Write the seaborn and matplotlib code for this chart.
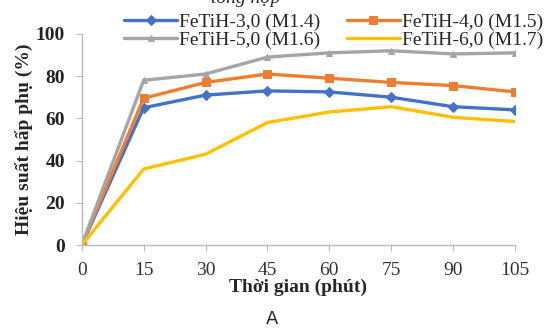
import matplotlib
matplotlib.use("Agg")
import matplotlib.pyplot as plt
import seaborn as sns
import pandas as pd

# thoi gian (phut) va hieu suat hap phu (%)
time_min = [0, 15, 30, 45, 60, 75, 90, 105]
m14 = [0, 65, 71, 73, 72.5, 70, 65.5, 64]
m15 = [0, 69.5, 77, 81, 79, 77, 75.5, 72.5]
m16 = [0, 78, 81, 89, 91, 92, 90.5, 91]
m17 = [0, 36, 43, 58, 63, 65.5, 60.5, 58.5]
labels = ["FeTiH-3,0 (M1.4)", "FeTiH-4,0 (M1.5)", "FeTiH-5,0 (M1.6)", "FeTiH-6,0 (M1.7)"]

colors = ["#4472C4", "#ED7D31", "#A5A5A5", "#FFC000"]
markers = ["D", "s", "^", None]
msizes = [5, 6, 5, 0]

sns.set_style("white")
plt.rcParams['font.family'] = ['Liberation Serif', 'DejaVu Serif']

fig = plt.figure(figsize=(5.45, 3.32), dpi=100)
ax = fig.add_axes([0.150, 0.262, 0.795, 0.636])

for vals, lab, c, mk, ms in zip([m14, m15, m16, m17], labels, colors, markers, msizes):
    df = pd.DataFrame({"t": time_min, "y": vals})
    sns.lineplot(data=df, x="t", y="y", ax=ax, color=c, marker=mk, markersize=ms,
                 markeredgecolor=c, linewidth=2.4, label=lab)

ax.set_xlim(0, 105)
ax.set_ylim(0, 100)
ax.set_xticks(time_min)
ax.set_yticks([0, 20, 40, 60, 80, 100])
ax.tick_params(axis="x", labelsize=14, length=4, color="#BBBBBB", direction="out",
               labelcolor="#333333", pad=8)
ax.tick_params(axis="y", labelsize=14, length=4, color="#BBBBBB", direction="out",
               labelcolor="#222222", pad=8)
for t in ax.get_yticklabels():
    t.set_fontweight("bold")
ax.tick_params(bottom=True, left=True)
for s in ["top", "right"]:
    ax.spines[s].set_visible(False)
for s in ["left", "bottom"]:
    ax.spines[s].set_color("#BBBBBB")
    ax.spines[s].set_linewidth(1)

ax.set_xlabel("Thời gian (phút)", fontsize=14, fontweight="bold", labelpad=0)
ax.set_ylabel("Hiệu suất hấp phụ (%)", fontsize=14, fontweight="bold", labelpad=2)

handles, labs = ax.get_legend_handles_labels()
ax.legend_.remove()
order = [0, 2, 1, 3]
fig.legend([handles[i] for i in order], [labs[i] for i in order], ncol=2,
           loc="upper left", bbox_to_anchor=(0.228, 0.96),
           frameon=False, fontsize=14, handlelength=2.7, columnspacing=1.4,
           handletextpad=0.1, labelspacing=0.0, borderaxespad=0.0, borderpad=0.0)

fig.text(0.45, 1.005, "tổng hợp", ha="center", va="center", fontsize=14, style="italic")
fig.text(0.5, 0.04, "A", ha="center", va="center", fontsize=13, family="DejaVu Sans")

fig.savefig("out.png", dpi=100)
